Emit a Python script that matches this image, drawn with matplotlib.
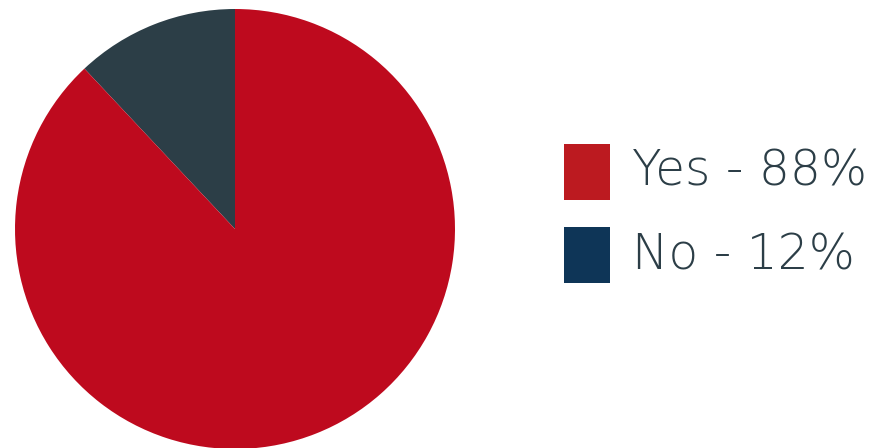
import matplotlib
matplotlib.use("Agg")
import matplotlib.pyplot as plt
from matplotlib.patches import Rectangle

# 回答の内訳
labels = ["Yes", "No"]
values = [88, 12]
slice_colors = ["#BE0A1E", "#2C3E47"]
legend_colors = ["#BC1A20", "#0E3557"]
text_color = "#2C3E47"

fig = plt.figure(figsize=(8.8, 4.48), dpi=100)
ax = fig.add_axes([15 / 880, -1 / 448, 440 / 880, 440 / 448])

# No を真上から反時計回りに描く
ax.pie(values[::-1], colors=slice_colors[::-1], startangle=90,
       counterclock=True, wedgeprops=dict(linewidth=0))
ax.set_xlim(-1, 1)
ax.set_ylim(-1, 1)
ax.set_aspect("equal")
ax.axis("off")

# 凡例
for i, (lab, val, col) in enumerate(zip(labels, values, legend_colors)):
    top = 144 + i * 83
    fig.patches.append(Rectangle((564 / 880, 1 - (top + 56) / 448), 46 / 880, 56 / 448,
                                 transform=fig.transFigure, color=col, linewidth=0))
    fig.text(632 / 880, 1 - (top + 28) / 448, f"{lab} - {val}%", fontsize=35,
             color=text_color, va="center", ha="left",
             family=["DejaVu Sans"], weight="light")

fig.savefig("out.png", dpi=100)
